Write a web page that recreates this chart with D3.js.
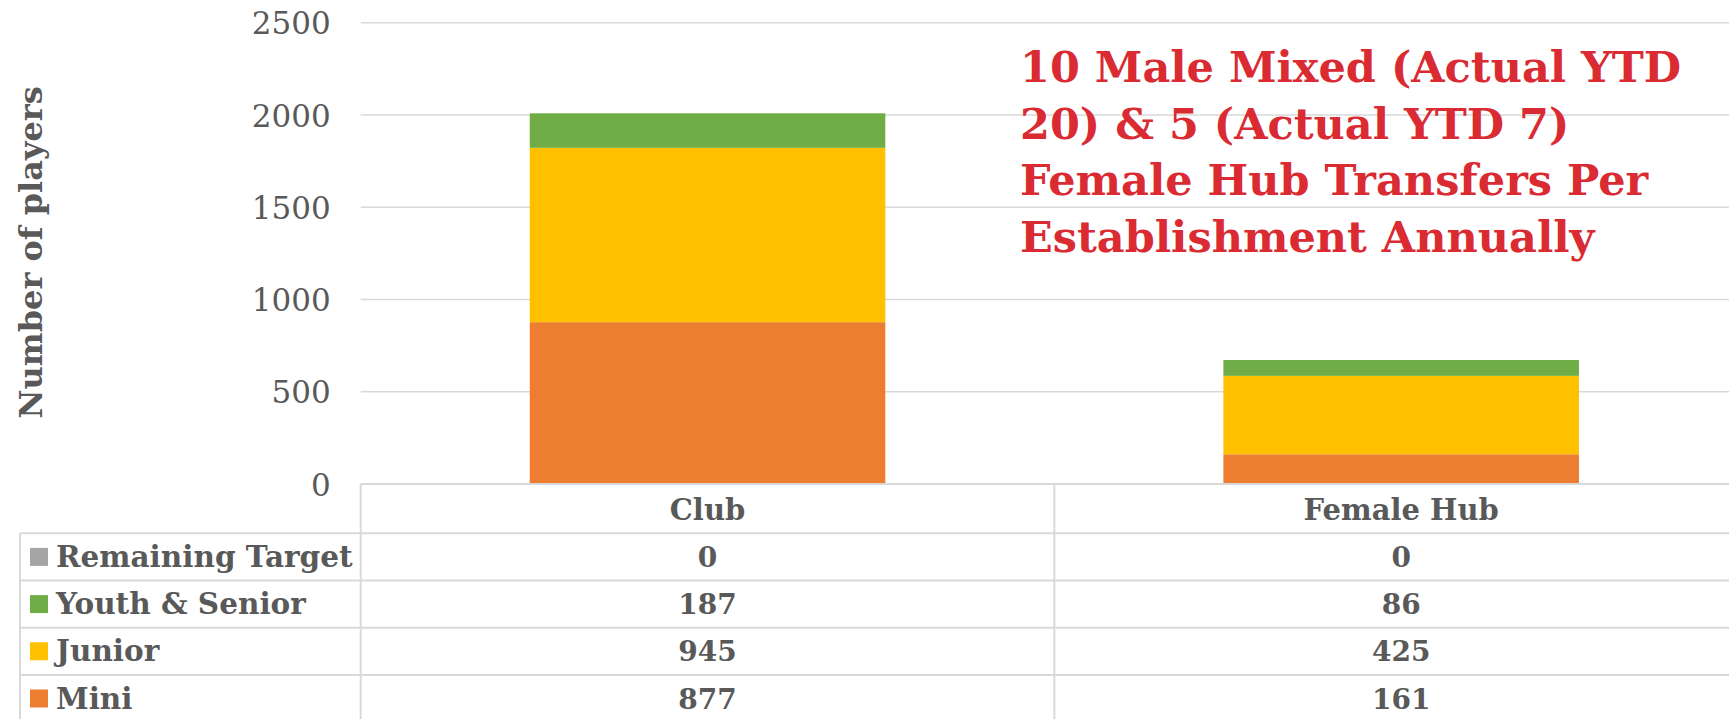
<!DOCTYPE html>
<html>
<head>
<meta charset="utf-8">
<script src="https://cdn.jsdelivr.net/npm/d3@7"></script>
<style>
  html, body { margin: 0; padding: 0; background: #ffffff; overflow: hidden; }
  svg { display: block; }
</style>
</head>
<body>
<svg id="chart" width="1729" height="719"></svg>
<script>
// ---- Data ----
const categories = ["Club", "Female Hub"];
const remainingTarget = [0, 0];
const youthSenior = [187, 86];
const junior = [945, 425];
const mini = [877, 161];
const seriesNames = ["Remaining Target", "Youth & Senior", "Junior", "Mini"]; // table order (top to bottom)
const seriesColors = ["#A5A5A5", "#70AD47", "#FFC000", "#ED7D31"];
const yTicks = [0, 500, 1000, 1500, 2000, 2500];
const yTitle = "Number of players";
const annotationLines = [
  "10 Male Mixed (Actual YTD",
  "20) & 5 (Actual YTD 7)",
  "Female Hub Transfers Per",
  "Establishment Annually"
];

// ---- Layout ----
const textColor = "#595959";
const gridColor = "#D9D9D9";
const fontFam = "'DejaVu Serif', serif";
const plotLeft = 360.7, plotRight = 1748;
const plotTop = 22.7, plotBottom = 484;
const tableLeft = 20;
const headerBottom = 533.3;
const rowH = 47.2;

const svg = d3.select("#chart");

// table rows built from the named arrays
const valuesBySeries = {
  "Remaining Target": remainingTarget,
  "Youth & Senior": youthSenior,
  "Junior": junior,
  "Mini": mini
};
const tableData = categories.map((c, i) => {
  const o = { category: c };
  seriesNames.forEach(s => { o[s] = valuesBySeries[s][i]; });
  return o;
});

// scales
const x = d3.scaleBand().domain(categories).range([plotLeft, plotRight]).paddingInner(0).paddingOuter(0);
const barP = 0.4874;
const xBar = d3.scaleBand().domain(categories).range([plotLeft, plotRight]).paddingInner(barP).paddingOuter(barP / 2);
const y = d3.scaleLinear().domain([0, 2500]).range([plotBottom, plotTop]);
const color = d3.scaleOrdinal().domain(seriesNames).range(seriesColors);

// gridlines
svg.append("g").selectAll("line")
  .data(yTicks.filter(t => t !== 0))
  .join("line")
  .attr("x1", plotLeft).attr("x2", plotRight)
  .attr("y1", d => y(d)).attr("y2", d => y(d))
  .attr("stroke", gridColor).attr("stroke-width", 1.5);

// y axis labels (via d3 axis)
const yAxis = d3.axisLeft(y).tickValues(yTicks).tickSize(0).tickPadding(0).tickFormat(d3.format("d"));
const yg = svg.append("g").attr("transform", `translate(${330.7},0)`).call(yAxis);
yg.select(".domain").remove();
yg.selectAll("text")
  .attr("fill", textColor)
  .attr("font-family", fontFam)
  .attr("font-size", 31)
  .attr("dy", "0.36em");

// y axis title
svg.append("text")
  .attr("transform", `translate(42,252.5) rotate(-90)`)
  .attr("text-anchor", "middle")
  .attr("fill", textColor)
  .attr("font-family", fontFam)
  .attr("font-weight", "bold")
  .attr("font-size", 32)
  .text(yTitle);

// stacked bars: Mini bottom, then Junior, Youth & Senior, Remaining Target
const stackOrder = seriesNames.slice().reverse();
const stacked = d3.stack().keys(stackOrder)(tableData);
svg.append("g").selectAll("g")
  .data(stacked)
  .join("g")
  .attr("fill", d => color(d.key))
  .selectAll("rect")
  .data(d => d)
  .join("rect")
  .attr("x", d => xBar(d.data.category))
  .attr("width", xBar.bandwidth())
  .attr("y", d => y(d[1]))
  .attr("height", d => y(d[0]) - y(d[1]));

// ---- Data table ----
const tg = svg.append("g");
const nRows = seriesNames.length;
const tableBottom = headerBottom + rowH * (nRows + 1);
tg.append("line").attr("x1", plotLeft).attr("x2", plotRight).attr("y1", plotBottom).attr("y2", plotBottom)
  .attr("stroke", gridColor).attr("stroke-width", 2);
d3.range(nRows + 1).forEach(i => {
  const yy = headerBottom + i * rowH;
  tg.append("line").attr("x1", tableLeft).attr("x2", plotRight).attr("y1", yy).attr("y2", yy)
    .attr("stroke", gridColor).attr("stroke-width", 2);
});
tg.append("line").attr("x1", tableLeft).attr("x2", tableLeft).attr("y1", headerBottom).attr("y2", tableBottom)
  .attr("stroke", gridColor).attr("stroke-width", 2);
[plotLeft, ...categories.map(c => x(c) + x.bandwidth())].forEach(xx => {
  tg.append("line").attr("x1", xx).attr("x2", xx).attr("y1", plotBottom).attr("y2", tableBottom)
    .attr("stroke", gridColor).attr("stroke-width", 2);
});
// header labels
tg.selectAll("text.hdr").data(categories).join("text")
  .attr("class", "hdr")
  .attr("x", d => x(d) + x.bandwidth() / 2)
  .attr("y", 519.5)
  .attr("text-anchor", "middle")
  .attr("fill", textColor)
  .attr("font-family", fontFam)
  .attr("font-weight", "bold")
  .attr("font-size", 29)
  .text(d => d);
// rows
seriesNames.forEach((s, i) => {
  const cy = headerBottom + i * rowH + rowH / 2;
  tg.append("rect").attr("x", 30).attr("y", cy - 9).attr("width", 18).attr("height", 18)
    .attr("fill", color(s));
  tg.append("text")
    .attr("x", 56).attr("y", cy + 10)
    .attr("fill", textColor)
    .attr("font-family", fontFam)
    .attr("font-weight", "bold")
    .attr("font-size", 29.5)
    .text(s);
  tg.selectAll(null).data(tableData).join("text")
    .attr("x", d => x(d.category) + x.bandwidth() / 2)
    .attr("y", cy + 10)
    .attr("text-anchor", "middle")
    .attr("fill", textColor)
    .attr("font-family", fontFam)
    .attr("font-weight", "bold")
    .attr("font-size", 28)
    .text(d => d[s]);
});

// ---- Annotation ----
svg.append("g").selectAll("text")
  .data(annotationLines)
  .join("text")
  .attr("x", 1020)
  .attr("y", (d, i) => 82 + i * 56.7)
  .attr("fill", "#DA2A32")
  .attr("font-family", fontFam)
  .attr("font-weight", "bold")
  .attr("font-size", 43)
  .text(d => d);
</script>
</body>
</html>
